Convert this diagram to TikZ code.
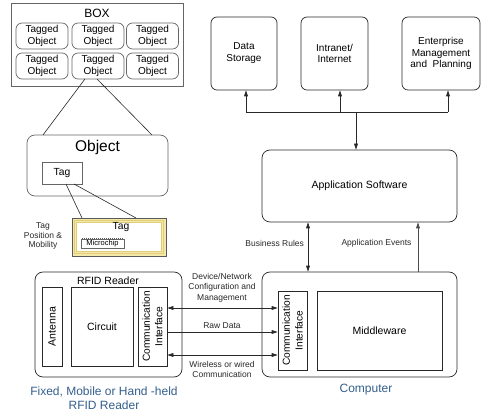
\documentclass[tikz,border=0pt]{standalone}
\usepackage{fontspec}
\setmainfont{Liberation Sans}
\usetikzlibrary{arrows.meta}
\definecolor{bluetxt}{RGB}{52,94,140}
\definecolor{yband}{RGB}{245,233,170}
\definecolor{yline}{RGB}{225,205,120}
\definecolor{lc}{RGB}{40,40,40}
\begin{document}
\begin{tikzpicture}[x=1pt,y=-1pt,
  box/.style={draw=lc,line width=0.7pt,inner sep=1pt,align=center,font=\fontsize{10}{11.8}\selectfont},
  rbox/.style={box,rounded corners=6pt},
  tobj/.style={box,draw=gray!80!black,rounded corners=6pt,minimum width=52pt,minimum height=26pt,font=\fontsize{10}{12.3}\selectfont},
  small/.style={font=\fontsize{8.5}{10.5}\selectfont,align=center,text=lc},
  arr/.style={-{Triangle[length=6pt,width=3.8pt]},line width=0.7pt,draw=lc},
  darr/.style={{Triangle[length=6pt,width=3.8pt]}-{Triangle[length=6pt,width=3.8pt]},line width=0.7pt,draw=lc},
  ln/.style={line width=0.6pt,draw=lc}]
\useasboundingbox (0,0) rectangle (489,419);

% BOX with tagged objects
\node[box,draw=gray!80!black,minimum width=172pt,minimum height=83pt] (bx) at (97,44.5) {};
\node[font=\fontsize{12}{14}\selectfont] (bxl) at (97,13) {BOX};
\node[tobj] (t1) at (42,36) {Tagged\\Object};
\node[tobj] (t2) at (98,36) {Tagged\\Object};
\node[tobj] (t3) at (152.5,36) {Tagged\\Object};
\node[tobj] (t4) at (42,66) {Tagged\\Object};
\node[tobj] (t5) at (98,66) {Tagged\\Object};
\node[tobj] (t6) at (152.5,66) {Tagged\\Object};

% Object
\node[box,draw=gray!80!black,rounded corners=8pt,minimum width=141pt,minimum height=61pt] (obj) at (97.5,165.5) {};
\node[font=\fontsize{15.5}{17}\selectfont] (objl) at (97.5,147) {Object};
\node[box,draw=gray!80!black,minimum width=40pt,minimum height=22pt,font=\fontsize{10.3}{12}\selectfont] (tg) at (62,173) {Tag};
\coordinate (a1) at (85,79);
\coordinate (a2) at (97,79);
\coordinate (b1) at (43,135);
\coordinate (b2) at (152,135);
\draw[ln] (a1) -- (b1);
\draw[ln] (a2) -- (b2);

% Yellow tag
\node[draw=gray!70!black,fill=yband,line width=0.6pt,minimum width=94pt,minimum height=38pt,inner sep=0pt] (ytag) at (119,237) {};
\node[draw=yline,line width=0.4pt,minimum width=89pt,minimum height=33pt,inner sep=0pt] (yin1) at (119,237) {};
\node[draw=yline,fill=white,line width=0.4pt,minimum width=85pt,minimum height=29pt,inner sep=0pt] (yin2) at (119,237) {};
\node[font=\fontsize{10.3}{12}\selectfont] (ytagl) at (121,227.5) {Tag};
\node[draw=gray!80!black,line width=0.5pt,minimum width=43pt,minimum height=9pt,inner sep=0pt,font=\fontsize{7.5}{8}\selectfont] (chip) at (102.5,243.5) {Microchip};
\draw[gray!70!black,line width=1.4pt,dash pattern=on 0.4pt off 1.6pt] ([xshift=1.5pt,yshift=0.3pt]chip.north west) -- ([xshift=-1pt,yshift=0.3pt]chip.north east);
\coordinate (c1) at (66,184);
\coordinate (c2) at (74,184);
\coordinate (d1) at (82,218);
\coordinate (d2) at (136,218);
\draw[ln] (c1) -- (d1);
\draw[ln] (c2) -- (d2);
\node[small,font=\fontsize{8.5}{9.8}\selectfont] (tpm) at (43,236) {Tag\\Position \&\\Mobility};

% RFID Reader
\node[box,rounded corners=8pt,minimum width=147pt,minimum height=105pt] (rfid) at (108.5,324.5) {};
\node[font=\fontsize{10.5}{12}\selectfont] (rfidl) at (108,281) {RFID Reader};
\node[box,minimum width=20pt,minimum height=79pt] (ant) at (52,326.5) {};
\node[rotate=90,font=\fontsize{10.5}{12}\selectfont] (antl) at (ant.center) {Antenna};
\node[box,minimum width=62pt,minimum height=79pt,font=\fontsize{10.5}{12}\selectfont] (circ) at (102,326.5) {Circuit};
\node[box,minimum width=29pt,minimum height=79pt] (rci) at (152.5,326.5) {};
\node[rotate=90,align=center,font=\fontsize{10.2}{12.7}\selectfont] (rcil) at (rci.center) {Communication\\Interface};
\node[text=bluetxt,align=center,font=\fontsize{12}{14.5}\selectfont] (rfidcap) at (104,398) {Fixed, Mobile or Hand -held\\RFID Reader};

% Computer
\node[box,rounded corners=8pt,minimum width=195pt,minimum height=105pt] (comp) at (359.5,324.5) {};
\node[box,minimum width=29pt,minimum height=79pt] (cci) at (292.5,330.5) {};
\node[rotate=90,align=center,font=\fontsize{10.2}{12.7}\selectfont] (ccil) at (cci.center) {Communication\\Interface};
\node[box,minimum width=125pt,minimum height=79pt,font=\fontsize{10.5}{12}\selectfont] (mw) at (379.5,330.5) {Middleware};
\node[text=bluetxt,font=\fontsize{12}{14}\selectfont] (compcap) at (366,390) {Computer};

% Links reader <-> computer
\coordinate (r1) at (rci.east |- 0,308);
\coordinate (r2) at (rci.east |- 0,332);
\coordinate (r3) at (rci.east |- 0,355);
\draw[darr] (r1) -- (r1 -| cci.west);
\draw[arr] (r2) -- (r2 -| cci.west);
\draw[darr] (r3) -- (r3 -| cci.west);
\node[small] (lab1) at (222,287.5) {Device/Network\\Configuration and\\Management};
\node[small] (lab2) at (222,325.5) {Raw Data};
\node[small] (lab3) at (222,369.5) {Wireless or wired\\Communication};

% Top boxes
\node[rbox,minimum width=66pt,minimum height=73pt] (ds) at (244,53.5) {Data\\Storage};
\node[rbox,minimum width=67pt,minimum height=73pt] (inet) at (334.5,53.5) {Intranet/\\Internet};
\node[rbox,minimum width=78pt,minimum height=73pt] (ent) at (441,53.5) {Enterprise\\Management\\and~ Planning};
\node[rbox,rounded corners=8pt,minimum width=195pt,minimum height=72pt,font=\fontsize{10.5}{12}\selectfont] (app) at (359.5,186) {Application Software};

\coordinate (p1) at (246,112);
\coordinate (p2) at (340,112);
\coordinate (p3) at (448,112);
\coordinate (pm) at (356,112);
\draw[ln] (p1) -- (p3);
\draw[arr] (p1) -- (p1 |- ds.south);
\draw[arr] (p2) -- (p2 |- inet.south);
\draw[arr] (p3) -- (p3 |- ent.south);
\draw[arr] (pm) -- (pm |- app.north);

% App <-> Computer
\coordinate (q1) at (308,0);
\coordinate (q2) at (418,0);
\draw[darr] (q1 |- comp.north) -- (q1 |- app.south);
\draw[arr,draw=gray!60!black] (q2 |- comp.north) -- (q2 |- app.south);
\node[small,anchor=east] (br) at (307.5,243) {Business Rules};
\node[small,anchor=east] (ae) at (415,243) {Application Events};
\end{tikzpicture}
\end{document}
